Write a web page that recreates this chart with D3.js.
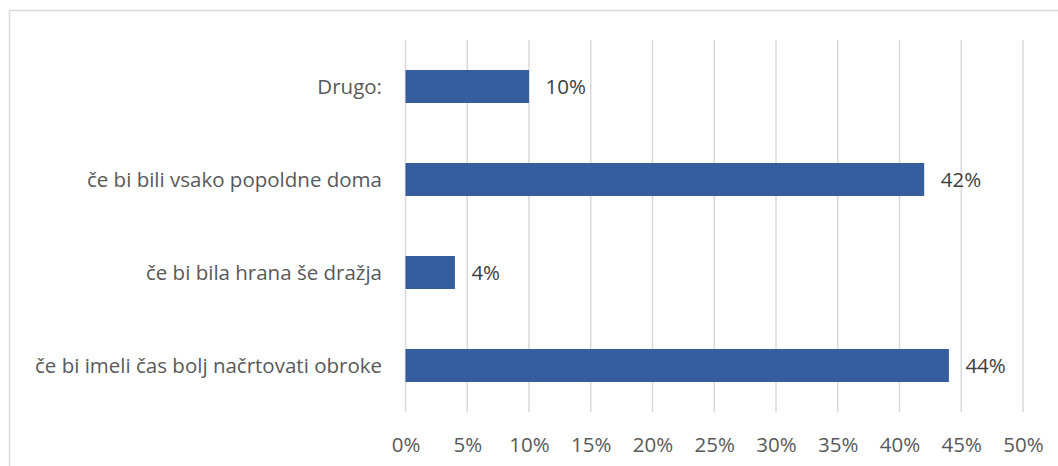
<!DOCTYPE html>
<html><head><meta charset="utf-8">
<script src="https://cdn.jsdelivr.net/npm/d3@7"></script>
<style>body{margin:0;background:#fff}svg{display:block}</style>
</head><body>
<svg id="c" width="1058" height="466"></svg>
<script>
const categories = ["Drugo:", "če bi bili vsako popoldne doma", "če bi bila hrana še dražja", "če bi imeli čas bolj načrtovati obroke"];
const values = [10, 42, 4, 44];
const tickValues = [0, 5, 10, 15, 20, 25, 30, 35, 40, 45, 50];

const svg = d3.select("#c");
const font = "'Open Sans', sans-serif";
const grey = "#595959";
const fs = "20.5px";

svg.append("rect").attr("x", 9.5).attr("y", 10.5).attr("width", 1100).attr("height", 500)
  .attr("fill", "none").attr("stroke", "#d9d9d9").attr("stroke-width", 1.5);

const x = d3.scaleLinear().domain([0, 50]).range([405.5, 1023]);
const y = d3.scaleBand().domain(categories).range([40, 412]).paddingInner(0.645).paddingOuter(0.3225);

const g = svg.append("g");
g.selectAll("line.grid").data(tickValues).join("line")
  .attr("x1", d => x(d)).attr("x2", d => x(d)).attr("y1", 40).attr("y2", 412)
  .attr("stroke", "#d9d9d9").attr("stroke-width", 1.5);

const xAxis = d3.axisBottom(x).tickValues(tickValues).tickFormat(d => d + "%").tickSize(0).tickPadding(0);
const ax = svg.append("g").attr("transform", "translate(0,451.5)").call(xAxis);
ax.select(".domain").remove();
ax.selectAll("text").attr("dy", 0).attr("y", 0).attr("fill", grey)
  .style("font-family", font).style("font-size", fs);

g.selectAll("rect.bar").data(values).join("rect").attr("class", "bar")
  .attr("x", x(0)).attr("y", (d, i) => y(categories[i]))
  .attr("width", d => x(d) - x(0)).attr("height", y.bandwidth())
  .attr("fill", "#365E9F");

g.selectAll("text.val").data(values).join("text")
  .attr("x", d => x(d) + 16.5).attr("y", (d, i) => y(categories[i]) + y.bandwidth() / 2)
  .attr("dy", "0.36em").attr("fill", "#404040")
  .style("font-family", font).style("font-size", fs).text(d => d + "%");

const yAxis = d3.axisLeft(y).tickSize(0).tickPadding(0);
const ay = svg.append("g").attr("transform", "translate(382,0)").call(yAxis);
ay.select(".domain").remove();
ay.selectAll("text").attr("x", 0).attr("dy", "0.36em").attr("fill", grey)
  .style("font-family", font).style("font-size", fs);
</script>
</body></html>
